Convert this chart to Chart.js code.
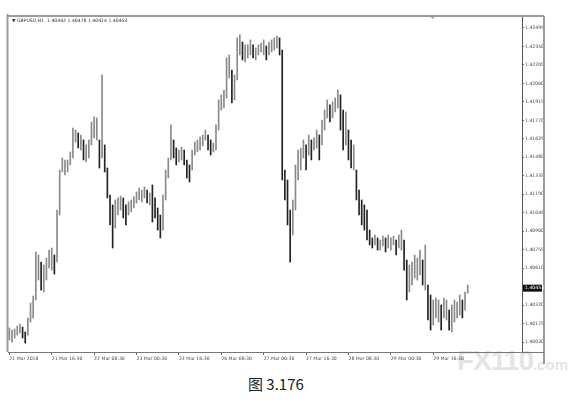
<!DOCTYPE html>
<html>
<head>
<meta charset="utf-8">
<title>GBPUSD H1</title>
<script src="https://cdn.jsdelivr.net/npm/chart.js"></script>
<style>
  body { margin: 0; background: #fff; width: 581px; height: 404px; overflow: hidden; position: relative; }
  #grafico { position: absolute; left: 0; top: 0; z-index: 1; }
  .pie { position: absolute; left: 248px; top: 373px; font: 15px "Noto Sans CJK SC", sans-serif; color: #222; }
  .marca { position: absolute; left: 457px; top: 345px; font: bold 28px "Liberation Sans", sans-serif; color: #e4e4e4; letter-spacing: -1px; z-index: 0; }
  .marca span { font-size: 15px; font-weight: bold; letter-spacing: 0; }
</style>
</head>
<body>
<div class="marca">FX110<span>.com</span></div>
<canvas id="grafico" width="581" height="404"></canvas>
<div class="pie">图 3.176</div>
<script>
const simbolo = 'GBPUSD,H1';
const ultimaBarra = [1.40442, 1.40478, 1.40414, 1.40453]; // O H L C
const etiquetasX = ['21 Mar 2018', '21 Mar 16:30', '22 Mar 08:30', '23 Mar 00:30', '23 Mar 16:30',
  '26 Mar 08:30', '27 Mar 00:30', '27 Mar 16:30', '28 Mar 08:30', '29 Mar 00:30', '29 Mar 16:30'];
const etiquetasY = [1.40030, 1.40175, 1.40320, 1.40610, 1.40755, 1.40900, 1.41045, 1.41190, 1.41335,
  1.41480, 1.41625, 1.41770, 1.41915, 1.42060, 1.42205, 1.42350, 1.42495];

const maximos = [
  1.40140, 1.40124, 1.40132, 1.40156, 1.40172, 1.40148, 1.40109, 1.40219, 1.40336, 1.40391,
  1.40737, 1.40713, 1.40658, 1.40635, 1.40690, 1.40752, 1.40768, 1.40713, 1.41066, 1.41380,
  1.41475, 1.41459, 1.41459, 1.41522, 1.41710, 1.41694, 1.41671, 1.41655, 1.41616, 1.41577,
  1.41616, 1.41757, 1.41797, 1.41789, 1.41616, 1.42126, 1.41577, 1.41396, 1.41184, 1.41106,
  1.41145, 1.41161, 1.41176, 1.41161, 1.41106, 1.41129, 1.41145, 1.41169, 1.41208, 1.41239,
  1.41223, 1.41247, 1.41223, 1.41200, 1.41263, 1.41161, 1.41082, 1.41027, 1.41184, 1.41380,
  1.41475, 1.41734, 1.41616, 1.41553, 1.41537, 1.41561, 1.41537, 1.41459, 1.41420, 1.41537,
  1.41600, 1.41616, 1.41640, 1.41655, 1.41694, 1.41655, 1.41616, 1.41592, 1.41734, 1.41930,
  1.41969, 1.42008, 1.42260, 1.42283, 1.42165, 1.42126, 1.42417, 1.42440, 1.42385, 1.42362,
  1.42362, 1.42401, 1.42362, 1.42338, 1.42362, 1.42377, 1.42401, 1.42354, 1.42385, 1.42401,
  1.42417, 1.42432, 1.42417, 1.42322, 1.41380, 1.41302, 1.41066, 1.41145, 1.41420, 1.41537,
  1.41553, 1.41616, 1.41577, 1.41655, 1.41616, 1.41632, 1.41694, 1.41655, 1.41773, 1.41851,
  1.41930, 1.41891, 1.41914, 1.41946, 1.42008, 1.41969, 1.41851, 1.41836, 1.41694, 1.41616,
  1.41577, 1.41380, 1.41223, 1.41145, 1.41106, 1.41066, 1.40909, 1.40847, 1.40870, 1.40847,
  1.40831, 1.40862, 1.40847, 1.40870, 1.40847, 1.40862, 1.40831, 1.40870, 1.40909, 1.40831,
  1.40674, 1.40635, 1.40658, 1.40713, 1.40690, 1.40752, 1.40674, 1.40792, 1.40478, 1.40399,
  1.40360, 1.40376, 1.40360, 1.40321, 1.40376, 1.40360, 1.40281, 1.40321, 1.40360, 1.40344,
  1.40399, 1.40360, 1.40423, 1.40478
];
const minimos = [
  1.40046, 1.40030, 1.40062, 1.40085, 1.40101, 1.40062, 1.40022, 1.40085, 1.40187, 1.40219,
  1.40360, 1.40517, 1.40438, 1.40423, 1.40517, 1.40611, 1.40595, 1.40564, 1.40658, 1.41027,
  1.41365, 1.41341, 1.41365, 1.41420, 1.41475, 1.41600, 1.41553, 1.41537, 1.41459, 1.41443,
  1.41475, 1.41577, 1.41632, 1.41616, 1.41396, 1.41475, 1.41365, 1.41161, 1.40949, 1.40768,
  1.40925, 1.41027, 1.41066, 1.41004, 1.40949, 1.41027, 1.41051, 1.41082, 1.41121, 1.41145,
  1.41129, 1.41161, 1.41121, 1.41106, 1.40972, 1.41004, 1.40909, 1.40847, 1.40909, 1.41145,
  1.41318, 1.41459, 1.41475, 1.41420, 1.41443, 1.41459, 1.41420, 1.41318, 1.41286, 1.41380,
  1.41498, 1.41522, 1.41537, 1.41569, 1.41616, 1.41537, 1.41498, 1.41522, 1.41537, 1.41694,
  1.41851, 1.41867, 1.41946, 1.42103, 1.41906, 1.41930, 1.42087, 1.42283, 1.42244, 1.42228,
  1.42260, 1.42283, 1.42260, 1.42244, 1.42283, 1.42307, 1.42283, 1.42244, 1.42283, 1.42307,
  1.42322, 1.42338, 1.42283, 1.41302, 1.41145, 1.40949, 1.40658, 1.40870, 1.41066, 1.41302,
  1.41380, 1.41475, 1.41380, 1.41498, 1.41459, 1.41537, 1.41553, 1.41459, 1.41577, 1.41694,
  1.41789, 1.41757, 1.41789, 1.41836, 1.41867, 1.41694, 1.41537, 1.41577, 1.41459, 1.41396,
  1.41380, 1.41145, 1.41027, 1.40949, 1.40909, 1.40831, 1.40792, 1.40768, 1.40792, 1.40752,
  1.40752, 1.40784, 1.40737, 1.40768, 1.40752, 1.40792, 1.40713, 1.40768, 1.40752, 1.40595,
  1.40360, 1.40423, 1.40478, 1.40533, 1.40517, 1.40556, 1.40478, 1.40438, 1.40203, 1.40124,
  1.40164, 1.40219, 1.40187, 1.40124, 1.40219, 1.40203, 1.40124, 1.40109, 1.40187, 1.40219,
  1.40242, 1.40219, 1.40281, 1.40414
];

const huecoDerecho = 20; // MT4 chart shift
const categorias = [];
for (let i = 0; i < maximos.length + huecoDerecho; i++) categorias.push(String(i));

const colores = maximos.map((h, i) => {
  if (i === 0) return '#8a8a8a';
  const medio = (h + minimos[i]) / 2;
  const previo = (maximos[i - 1] + minimos[i - 1]) / 2;
  return medio < previo - 0.0003 ? '#222' : '#8a8a8a';
});

const fuente = { family: 'DejaVu Sans', size: 4.6 };

const marco = {
  id: 'marco',
  afterDraw(chart) {
    const c = chart.ctx;
    const a = chart.chartArea;
    const y = chart.scales.y;
    c.save();
    c.strokeStyle = '#9a9a9a';
    c.lineWidth = 2;
    c.beginPath();
    c.moveTo(a.left, 16); c.lineTo(544, 16);
    c.moveTo(544, 16); c.lineTo(544, 364);
    c.moveTo(a.left - 0.5, 14); c.lineTo(a.left - 0.5, a.bottom);
    c.stroke();
    c.strokeStyle = '#777';
    c.lineWidth = 1;
    c.beginPath();
    c.moveTo(a.left, a.bottom + 0.5); c.lineTo(544, a.bottom + 0.5);
    c.stroke();

    c.fillStyle = '#333';
    c.font = '4.6px "DejaVu Sans"';
    c.textBaseline = 'middle';
    c.fillText('\u25BC ' + simbolo + '  ' + ultimaBarra.map(v => v.toFixed(5)).join(' '), a.left + 4, 21);

    c.fillStyle = '#999';
    c.beginPath();
    c.moveTo(430, 16); c.lineTo(435, 16); c.lineTo(432.5, 19);
    c.fill();

    const py = y.getPixelForValue(ultimaBarra[3]);
    c.fillStyle = '#111';
    c.fillRect(a.right + 1, py - 3.5, 19, 7);
    c.fillStyle = '#fff';
    c.fillText(ultimaBarra[3].toFixed(5), a.right + 3, py);
    c.restore();
  }
};

new Chart(document.getElementById('grafico'), {
  type: 'bar',
  data: {
    labels: categorias,
    datasets: [{
      data: maximos.map((h, i) => [minimos[i], h]),
      backgroundColor: colores,
      barThickness: 1,
      borderWidth: 0
    }]
  },
  options: {
    responsive: false,
    animation: false,
    devicePixelRatio: 1,
    layout: { padding: { left: 8, top: 17, right: 38, bottom: 40 } },
    plugins: { legend: { display: false }, tooltip: { enabled: false } },
    scales: {
      x: {
        offset: true,
        grid: { display: true, drawOnChartArea: false, offset: false, tickLength: 3, color: '#666' },
        border: { display: false },
        afterFit: s => { s.height = 12; },
        ticks: {
          autoSkip: false,
          maxRotation: 0,
          minRotation: 0,
          align: 'start',
          padding: 1,
          color: '#444',
          font: fuente,
          callback: (v, i) => (i % 16 === 0 && etiquetasX[i / 16]) ? etiquetasX[i / 16] : null
        }
      },
      y: {
        position: 'right',
        min: 1.39952,
        max: 1.42581,
        afterBuildTicks: s => { s.ticks = etiquetasY.map(v => ({ value: v })); },
        afterFit: s => { s.width = 21; },
        grid: { display: true, drawOnChartArea: false, tickLength: 2, color: '#666' },
        border: { display: true, color: '#555', width: 1 },
        ticks: {
          padding: 1,
          color: '#444',
          font: fuente,
          callback: v => Number(v).toFixed(5)
        }
      }
    }
  },
  plugins: [marco]
});
</script>
</body>
</html>
